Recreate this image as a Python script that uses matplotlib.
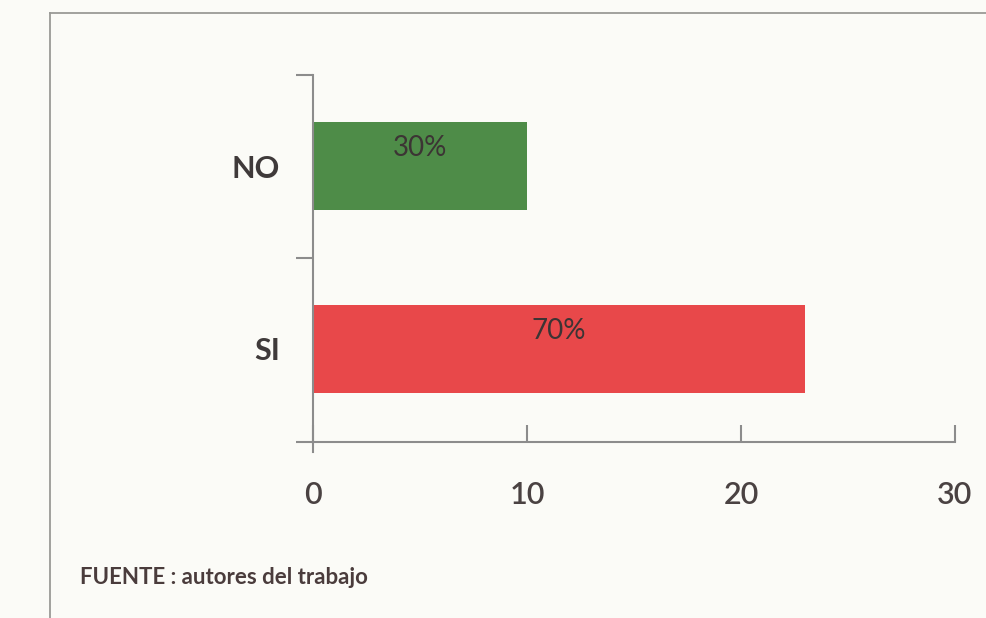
import numpy as np
import matplotlib.pyplot as plt
from matplotlib.lines import Line2D

# data
categorias = ["SI", "NO"]
cantidades = [23, 10]
porcentajes = ["70%", "30%"]
colores = ["#e8484a", "#4e8c48"]
x_ticks = [0, 10, 20, 30]
fuente = "FUENTE : autores del trabajo"

plt.rcParams['font.family'] = ['Lato', 'DejaVu Sans']

fig = plt.figure(figsize=(9.86, 6.18), dpi=100)
fig.patch.set_facecolor('#fbfbf7')

# marco del recuadro (escaneado, se sale por la derecha y abajo)
fig.add_artist(Line2D([50/986, 50/986], [0, 1-13/618], color='#9a9a96', lw=1.3))
fig.add_artist(Line2D([50/986, 1], [1-13/618, 1-13/618], color='#9a9a96', lw=1.3))

ax = fig.add_axes([313/986, 1-442/618, (955-313)/986, (442-75)/618])
ax.set_facecolor('none')

pos = np.arange(len(categorias))
ax.barh(pos, cantidades, height=0.48, color=colores)
for p, v, t in zip(pos, cantidades, porcentajes):
    ax.text(v/2, p+0.1, t, ha='center', va='center', fontsize=20, color='#3c3434')

ax.set_xlim(0, 30)
ax.set_ylim(-0.51, 1.5)
ax.set_xticks(x_ticks)
ax.set_yticks(pos)
ax.set_yticklabels(categorias)
ax.set_yticks([-0.51, 0.5, 1.5], minor=True)

for s in ['top', 'right']:
    ax.spines[s].set_visible(False)
for s in ['left', 'bottom']:
    ax.spines[s].set_color('#8c8c8c')
    ax.spines[s].set_linewidth(1.5)

ax.tick_params(axis='x', direction='in', length=12, width=1.5, color='#8c8c8c',
               pad=28, labelsize=22, labelcolor='#4a4242')
ax.tick_params(axis='y', which='major', length=0, pad=24, labelsize=22, labelcolor='#3f3a3a')
ax.tick_params(axis='y', which='minor', direction='out', length=12, width=1.5, color='#8c8c8c')
for lab in ax.get_yticklabels():
    lab.set_fontweight('bold')
for lab in ax.get_xticklabels():
    lab.set_fontweight('semibold')

# prolongación del eje vertical bajo el cero
ax.plot([0, 0], [-0.51, -0.565], color='#8c8c8c', lw=1.5, clip_on=False)

fig.text(80/986, 1-578/618, fuente, fontsize=16, fontweight='bold', color='#4a3c3c',
         va='center', ha='left')

fig.savefig('out.png', dpi=100, facecolor=fig.get_facecolor())
